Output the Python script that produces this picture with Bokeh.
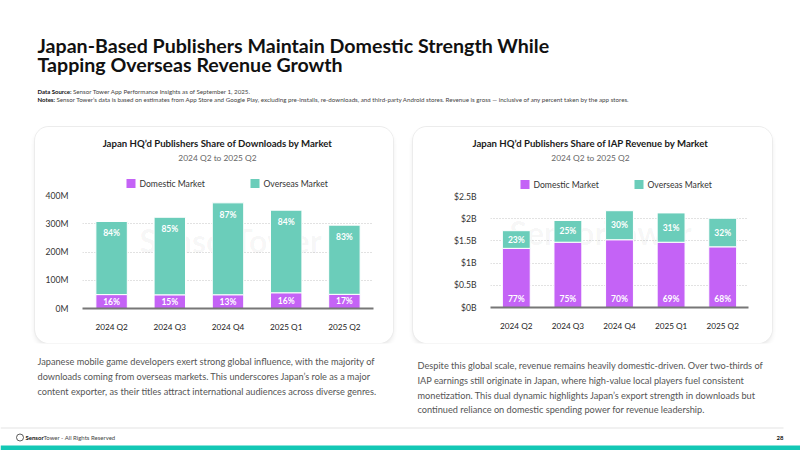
from bokeh.plotting import figure
from bokeh.models import (ColumnDataSource, FactorRange, Range1d, Label,
                          FixedTicker, Spacer)
from bokeh.layouts import column, row
from bokeh.embed import file_html
from bokeh.resources import INLINE
from bokeh.core.properties import value

# ---- data -------------------------------------------------------------
quarters = ["2024 Q2", "2024 Q3", "2024 Q4", "2025 Q1", "2025 Q2"]

downloads_total_m = [308, 323, 374, 348, 295]
downloads_domestic_pct = [16, 15, 13, 16, 17]
downloads_overseas_pct = [84, 85, 87, 84, 83]
downloads_ticks = [0, 100, 200, 300, 400]
downloads_tick_labels = ["0M", "100M", "200M", "300M", "400M"]

revenue_total_b = [1.73, 1.96, 2.18, 2.13, 2.01]
revenue_domestic_pct = [77, 75, 70, 69, 68]
revenue_overseas_pct = [23, 25, 30, 31, 32]
revenue_ticks = [0.0, 0.5, 1.0, 1.5, 2.0, 2.5]
revenue_tick_labels = ["$0B", "$0.5B", "$1B", "$1.5B", "$2B", "$2.5B"]

series_names = ["Domestic Market", "Overseas Market"]

# ---- style ------------------------------------------------------------
FONT = "Lato"
PURPLE = "#C463F6"
TEAL = "#6BCDBA"
INK = "#1a1a1a"
GREY_TEXT = "#555555"
SERIES_COLORS = [PURPLE, TEAL]
CARD_STYLE = {
    "border-radius": "14px",
    "overflow": "hidden",
    "box-shadow": "0 0 0 1px #ececec, 0 3px 5px rgba(0,0,0,0.10)",
}
CARD_HEAD_H = 63
CARD_BODY_H = 153


def blank_canvas(width, height, x0, x1, ytop, ybottom):
    """A plain white drawing area whose data units are pixels, y growing downward."""
    p = figure(width=width, height=height, x_range=Range1d(x0, x1),
               y_range=Range1d(ybottom, ytop), x_axis_type=None, y_axis_type=None,
               toolbar_location=None, output_backend="svg", min_border=0,
               frame_align=False)
    p.outline_line_color = None
    p.grid.visible = False
    p.background_fill_color = "white"
    p.border_fill_color = "white"
    return p


def add_label(p, x, y, text, size, color=INK, bold=False, align="left", units="data"):
    p.add_layout(Label(x=x, y=y, text=text, x_units=units, y_units=units,
                       text_font=FONT, text_font_size=f"{size}px",
                       text_font_style="bold" if bold else "normal",
                       text_color=color, text_align=align, text_baseline="middle"))


def card_head(title, subtitle, width, title_x, swatch_x, legend_y):
    """Title, subtitle and series key sitting on top of a chart card."""
    p = blank_canvas(width, CARD_HEAD_H, 0, width, 0, CARD_HEAD_H)
    add_label(p, title_x, 16, title, 9.6, color=INK, bold=True, align="center")
    add_label(p, title_x, 30, subtitle, 8.4, color="#666666", align="center")
    p.scatter(x=swatch_x, y=[legend_y] * len(swatch_x), marker="square", size=9,
              fill_color=SERIES_COLORS, line_color=None)
    for sx, name in zip(swatch_x, series_names):
        add_label(p, sx + 8.5, legend_y, name, 8.6, color="#333333")
    return p


def card_chart(totals, dom_pct, ovs_pct, ticks, tick_labels, width, borders,
               watermark_pos, ovs_label_at_top):
    left, right, top, bottom = borders
    dom = [t * d / 100 for t, d in zip(totals, dom_pct)]
    ovs = [t - d for t, d in zip(totals, dom)]
    if ovs_label_at_top:
        ovs_y, ovs_off = list(totals), 12
        dom_y, dom_off = [d / 2 for d in dom], 0
    else:
        ovs_y, ovs_off = [d + o / 2 for d, o in zip(dom, ovs)], 0
        dom_y, dom_off = [0] * len(dom), -8.5
    src = ColumnDataSource(dict(
        q=quarters, dom=dom, ovs=ovs, ovs_y=ovs_y, dom_y=dom_y,
        dom_lbl=[f"{v}%" for v in dom_pct], ovs_lbl=[f"{v}%" for v in ovs_pct]))

    p = figure(width=width, height=CARD_BODY_H, x_range=FactorRange(*quarters),
               y_range=Range1d(0, ticks[-1]), toolbar_location=None,
               output_backend="svg", min_border_left=left, min_border_right=right,
               min_border_top=top, min_border_bottom=bottom, frame_align=False)
    p.outline_line_color = None
    p.background_fill_color = "white"
    p.border_fill_color = "white"

    # faint watermark behind the bars
    p.add_layout(Label(x=watermark_pos[0], y=watermark_pos[1], x_units="screen",
                       y_units="screen", text="SensorTower", text_font=FONT,
                       text_font_size="32px", text_font_style="bold",
                       text_color="#000000", text_alpha=0.045, text_align="center",
                       text_baseline="middle", level="underlay"))

    p.vbar_stack(["dom", "ovs"], x="q", width=0.54, color=SERIES_COLORS,
                 line_color="white", line_width=1, source=src)

    p.text(x="q", y="ovs_y", text="ovs_lbl", source=src, y_offset=ovs_off,
           text_font=value(FONT), text_font_size="8.5px", text_font_style="bold",
           text_color="white", text_align="center", text_baseline="middle")
    p.text(x="q", y="dom_y", text="dom_lbl", source=src, y_offset=dom_off,
           text_font=value(FONT), text_font_size="8.5px", text_font_style="bold",
           text_color="white", text_align="center", text_baseline="middle")

    p.yaxis.ticker = FixedTicker(ticks=ticks)
    p.yaxis.major_label_overrides = {float(t): s for t, s in zip(ticks, tick_labels)}
    p.yaxis.axis_line_color = None
    p.yaxis.major_tick_line_color = None
    p.yaxis.minor_tick_line_color = None
    p.yaxis.major_label_standoff = 8
    p.yaxis.major_label_text_font = FONT
    p.yaxis.major_label_text_font_size = "8.6px"
    p.yaxis.major_label_text_color = "#333333"

    p.xaxis.axis_line_color = "#777777"
    p.xaxis.axis_line_width = 2
    p.xaxis.major_tick_line_color = None
    p.xaxis.minor_tick_line_color = None
    p.xaxis.major_label_standoff = 7
    p.xaxis.major_label_text_font = FONT
    p.xaxis.major_label_text_font_size = "8.2px"
    p.xaxis.major_label_text_color = "#222222"

    p.xgrid.visible = False
    p.ygrid.grid_line_color = "#c4c4c4"
    p.ygrid.grid_line_dash = "1 2"
    p.ygrid.grid_line_width = 1
    return p


downloads_card = column(
    card_head("Japan HQ\u2019d Publishers Share of Downloads by Market", "2024 Q2 to 2025 Q2",
              358, title_x=182, swatch_x=[95.5, 219.5], legend_y=56),
    card_chart(downloads_total_m, downloads_domestic_pct, downloads_overseas_pct,
               downloads_ticks, downloads_tick_labels, 358, borders=(47, 20, 5, 35),
               watermark_pos=(148, 68), ovs_label_at_top=True),
    styles=CARD_STYLE,
)

revenue_card = column(
    card_head("Japan HQ\u2019d Publishers Share of IAP Revenue by Market", "2024 Q2 to 2025 Q2",
              359, title_x=177, swatch_x=[111.5, 225.5], legend_y=57),
    card_chart(revenue_total_b, revenue_domestic_pct, revenue_overseas_pct,
               revenue_ticks, revenue_tick_labels, 359, borders=(77, 24, 6, 36),
               watermark_pos=(110, 75), ovs_label_at_top=False),
    styles=CARD_STYLE,
)

# ---- header -----------------------------------------------------------
header = blank_canvas(800, 127, 0, 800, 0, 127)
add_label(header, 37, 45, "Japan-Based Publishers Maintain Domestic Strength While", 19.6,
          color="#111111", bold=True)
add_label(header, 37, 64, "Tapping Overseas Revenue Growth", 19.6, color="#111111", bold=True)
add_label(header, 37, 91, "Data Source:", 6, color="#111111", bold=True)
add_label(header, 72.5, 91, "Sensor Tower App Performance Insights as of September 1, 2025.",
          6.2, color="#444444")
add_label(header, 37, 99, "Notes:", 6, color="#111111", bold=True)
add_label(header, 56, 99,
          "Sensor Tower\u2019s data is based on estimates from App Store and Google Play, "
          "excluding pre-installs, re-downloads, and third-party Android stores. Revenue is "
          "gross \u2014 inclusive of any percent taken by the app stores.", 6.2, color="#444444")

# ---- commentary and footer ----------------------------------------------
footer = blank_canvas(800, 107, 0, 800, 343, 450)
left_para = [
    "Japanese mobile game developers exert strong global influence, with the majority of",
    "downloads coming from overseas markets. This underscores Japan\u2019s role as a major",
    "content exporter, as their titles attract international audiences across diverse genres.",
]
right_para = [
    "Despite this global scale, revenue remains heavily domestic-driven. Over two-thirds of",
    "IAP earnings still originate in Japan, where high-value local players fuel consistent",
    "monetization. This dual dynamic highlights Japan\u2019s export strength in downloads but",
    "continued reliance on domestic spending power for revenue leadership.",
]
for i, line in enumerate(left_para):
    add_label(footer, 37, 361 + 15 * i, line, 9.2, color=GREY_TEXT)
for i, line in enumerate(right_para):
    add_label(footer, 417, 365 + 14.8 * i, line, 9.2, color=GREY_TEXT)

footer.segment(x0=[0], y0=[427.5], x1=[783], y1=[427.5], line_color="#e3e3e3", line_width=1)
footer.quad(left=[0], right=[800], top=[445], bottom=[450], fill_color="#14C8B5",
            line_color=None)
footer.scatter(x=[19.5], y=[437], marker="circle", size=7, fill_color="white",
               line_color="#333333", line_width=0.8)
add_label(footer, 25, 437, "Sensor", 6, color="#111111", bold=True)
add_label(footer, 43, 437, "Tower - All Rights Reserved", 6, color="#444444")
add_label(footer, 783, 437, "28", 6, color="#111111", bold=True, align="right")

layout = column(
    header,
    row(Spacer(width=35, height=216), downloads_card, Spacer(width=20, height=216),
        revenue_card, Spacer(width=28, height=216)),
    footer,
)

open("out.html", "w").write(file_html(layout, INLINE))
